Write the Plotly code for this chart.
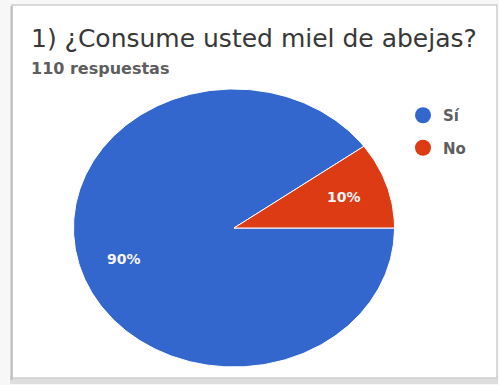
import numpy as np
import plotly.graph_objects as go

# Survey question and answers
title_text = "1) ¿Consume usted miel de abejas?"
subtitle_text = "110 respuestas"
categories = ["Sí", "No"]
counts = [99, 11]
colors = ["#3467CD", "#DC3B14"]

W, H = 499, 385
# Pie geometry in pixel space (slightly wider than tall)
cx, cy = 234, 228
rx, ry = 160.5, 139.0
start_deg = 0.0          # first slice starts at 3 o'clock and runs clockwise
label_r = 0.72

total = sum(counts)
fracs = [c / total for c in counts]

fig = go.Figure()

# Card frame with soft edges
fig.add_shape(type="rect", x0=10, y0=376, x1=498, y1=384,
              fillcolor="#dedede", line_width=0, layer="below")
fig.add_shape(type="rect", x0=12, y0=5, x1=497, y1=378,
              fillcolor="white", line=dict(color="#cfcfcf", width=1.5), layer="below")
fig.add_shape(type="line", x0=11.5, y0=6, x1=11.5, y1=380,
              line=dict(color="#bdbdbd", width=2), layer="below")

acc = 0.0
for name, f, col in zip(categories, fracs, colors):
    a0 = np.deg2rad(start_deg - 360 * acc)
    a1 = np.deg2rad(start_deg - 360 * (acc + f))
    n = max(int(400 * f), 12)
    t = np.linspace(a0, a1, n)
    xs = np.concatenate([[cx], cx + rx * np.cos(t), [cx]])
    ys = np.concatenate([[cy], cy - ry * np.sin(t), [cy]])
    fig.add_trace(go.Scatter(
        x=xs, y=ys, mode="lines", fill="toself", fillcolor=col,
        line=dict(color="white", width=1), hoverinfo="skip",
        showlegend=False, name=name))
    am = (a0 + a1) / 2
    fig.add_annotation(
        x=cx + label_r * rx * np.cos(am), y=cy - label_r * ry * np.sin(am),
        xref="x", yref="y", text=f"<b>{round(f * 100)}%</b>", showarrow=False,
        font=dict(family="DejaVu Sans", size=14, color="#f4f4f4"))
    acc += f

# Legend entries
for i, (name, col) in enumerate(zip(categories, colors)):
    fig.add_trace(go.Scatter(
        x=[None], y=[None], mode="markers", name=f"<b>{name}</b>",
        marker=dict(color=col, size=16, symbol="circle"),
        legendgroup=name, showlegend=True))

fig.add_annotation(x=29, y=38, xref="x", yref="y", text=title_text,
                   showarrow=False, xanchor="left", yanchor="middle",
                   font=dict(family="DejaVu Sans", size=25, color="#383838"))
fig.add_annotation(x=29, y=68, xref="x", yref="y", text=f"<b>{subtitle_text}</b>",
                   showarrow=False, xanchor="left", yanchor="middle",
                   font=dict(family="DejaVu Sans", size=16, color="#5e5e5e"))

fig.update_layout(
    width=W, height=H, margin=dict(l=0, r=0, t=0, b=0),
    paper_bgcolor="#f7f7f7", plot_bgcolor="rgba(0,0,0,0)",
    xaxis=dict(range=[0, W], visible=False, fixedrange=True),
    yaxis=dict(range=[H, 0], visible=False, fixedrange=True),
    showlegend=True,
    legend=dict(x=403 / W, y=1 - 99 / H, xanchor="left", yanchor="top",
                font=dict(family="DejaVu Sans", size=15, color="#5e5e5e"),
                tracegroupgap=10, itemwidth=30, bgcolor="rgba(0,0,0,0)"),
)

fig.write_html("out.html")
